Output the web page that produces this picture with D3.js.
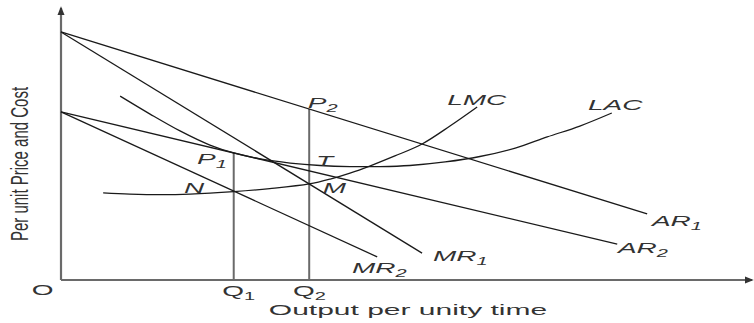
<!DOCTYPE html>
<html>
<head>
<meta charset="utf-8">
<script src="https://cdn.jsdelivr.net/npm/d3@7"></script>
<style>
  body { margin: 0; background: #fff; }
  svg { display: block; }
  .curve { fill: none; stroke: #1a1a1a; stroke-width: 1.3; }
  .axis-line { stroke: #6a6a6a; stroke-width: 2.2; }
  .drop { stroke: #6a6a6a; stroke-width: 2; }
  .lbl { font-family: "Liberation Sans", Arial, sans-serif; fill: #333; }
</style>
</head>
<body>
<div id="chart"></div>
<script>
// curves, in chart units (output, price)
var ar1 = [[0, 91.2], [86.2, 24.3]];
var mr1 = [[0, 91.2], [53.1, 9.9]];
var ar2 = [[0, 61.8], [81.8, 13.2]];
var mr2 = [[0, 61.8], [46.5, 8.5]];

var lac = [
  [8.7, 67.6], [13.1, 61.0], [17.5, 54.8], [21.9, 49.6], [25.4, 46.7],
  [29.3, 44.5], [33.7, 43.0], [38.1, 42.1], [42.5, 41.7], [46.9, 41.7],
  [51.3, 42.1], [56.5, 43.4], [61.6, 45.4], [66.8, 48.5], [71.5, 52.6],
  [76.3, 56.6], [81.0, 61.4]
];

var lmc = [
  [6.2, 32.0], [10.1, 31.6], [14.6, 31.4], [19.0, 31.6], [25.4, 32.5],
  [30.7, 33.6], [36.5, 35.3], [39.6, 37.1], [42.5, 39.3], [45.4, 41.9],
  [49.1, 45.6], [53.1, 50.0], [57.2, 56.6], [61.2, 63.6]
];

// Q1 sits under AR2, Q2 under AR1
var outputs = [25.4, 36.5];
var outputCurves = [ar2, ar1];

// label text, subscript, italic, anchor (chart units)
var labels = [
  ["LMC", "", true, 56.8, 64.3],
  ["LAC", "", true, 77.5, 62.5],
  ["P", "2", true, 36.3, 63.2],
  ["T", "", true, 37.5, 41.9],
  ["M", "", true, 38.5, 32.0],
  ["P", "1", true, 20.0, 42.6],
  ["N", "", true, 18.1, 32.0],
  ["MR", "1", true, 54.7, 7.0],
  ["MR", "2", true, 42.8, 2.6],
  ["AR", "1", true, 86.9, 19.9],
  ["AR", "2", true, 81.9, 9.9],
  ["Q", "1", false, 23.7, -5.9],
  ["Q", "2", false, 34.1, -5.9],
  ["O", "", false, -4.3, -5.5]
];

var xTitle = "Output per unity time";
var yTitle = "Per unit Price and Cost";

var width = 754, height = 323;
var margins = { left: 61, right: 13, top: 8, bottom: 43 };

var x = d3.scaleLinear().domain([0, 100]).range([margins.left, 741]);
var y = d3.scaleLinear().domain([0, 100]).range([height - margins.bottom, margins.top]);

var svg = d3.select("#chart").append("svg")
  .attr("width", width)
  .attr("height", height);

var defs = svg.append("defs");
defs.append("marker")
  .attr("id", "arrow")
  .attr("viewBox", "0 0 10 10")
  .attr("refX", 8).attr("refY", 5)
  .attr("markerWidth", 4).attr("markerHeight", 4)
  .attr("orient", "auto")
  .append("path")
  .attr("d", "M0,1 L10,5 L0,9 Z")
  .attr("fill", "#333");

// axes
svg.append("line").attr("class", "axis-line")
  .attr("x1", x(0)).attr("y1", y(0))
  .attr("x2", x(0)).attr("y2", y(100))
  .attr("marker-end", "url(#arrow)");
svg.append("line").attr("class", "axis-line")
  .attr("x1", x(0)).attr("y1", y(0))
  .attr("x2", width - 2).attr("y2", y(0))
  .attr("marker-end", "url(#arrow)");

// value of a straight line at output q
var lineAt = function(seg, q) {
  var t = (q - seg[0][0]) / (seg[1][0] - seg[0][0]);
  return seg[0][1] + t * (seg[1][1] - seg[0][1]);
};

svg.append("g").selectAll("line")
  .data(outputs)
  .enter().append("line")
  .attr("class", "drop")
  .attr("x1", d => x(d)).attr("x2", d => x(d))
  .attr("y1", y(0))
  .attr("y2", (d, i) => y(lineAt(outputCurves[i], d)));

var straight = d3.line().x(d => x(d[0])).y(d => y(d[1]));
var smooth = d3.line().x(d => x(d[0])).y(d => y(d[1])).curve(d3.curveCatmullRom.alpha(0.5));

svg.append("g").selectAll("path")
  .data([ar1, mr1, ar2, mr2])
  .enter().append("path")
  .attr("class", "curve")
  .attr("d", straight);

svg.append("g").selectAll("path")
  .data([lac, lmc])
  .enter().append("path")
  .attr("class", "curve")
  .attr("d", smooth);

// point / curve labels, stretched wide like the source
var sx = 2.0;
var lab = svg.append("g").selectAll("text")
  .data(labels)
  .enter().append("text")
  .attr("class", "lbl")
  .attr("font-size", 14)
  .attr("font-style", d => d[2] ? "italic" : "normal")
  .attr("transform", d => "translate(" + x(d[3]) + "," + y(d[4]) + ") scale(" + sx + ",1)");

lab.append("tspan").text(d => d[0]);
lab.append("tspan")
  .attr("font-size", 10)
  .attr("dy", 4)
  .text(d => d[1]);

svg.append("text")
  .attr("class", "lbl")
  .attr("font-size", 15)
  .attr("text-anchor", "middle")
  .attr("transform", "translate(408,315) scale(2,1)")
  .text(xTitle);

svg.append("text")
  .attr("class", "lbl")
  .attr("font-size", 15)
  .attr("text-anchor", "middle")
  .attr("transform", "translate(28,164) scale(1.6,1) rotate(-90)")
  .text(yTitle);
</script>
</body>
</html>
